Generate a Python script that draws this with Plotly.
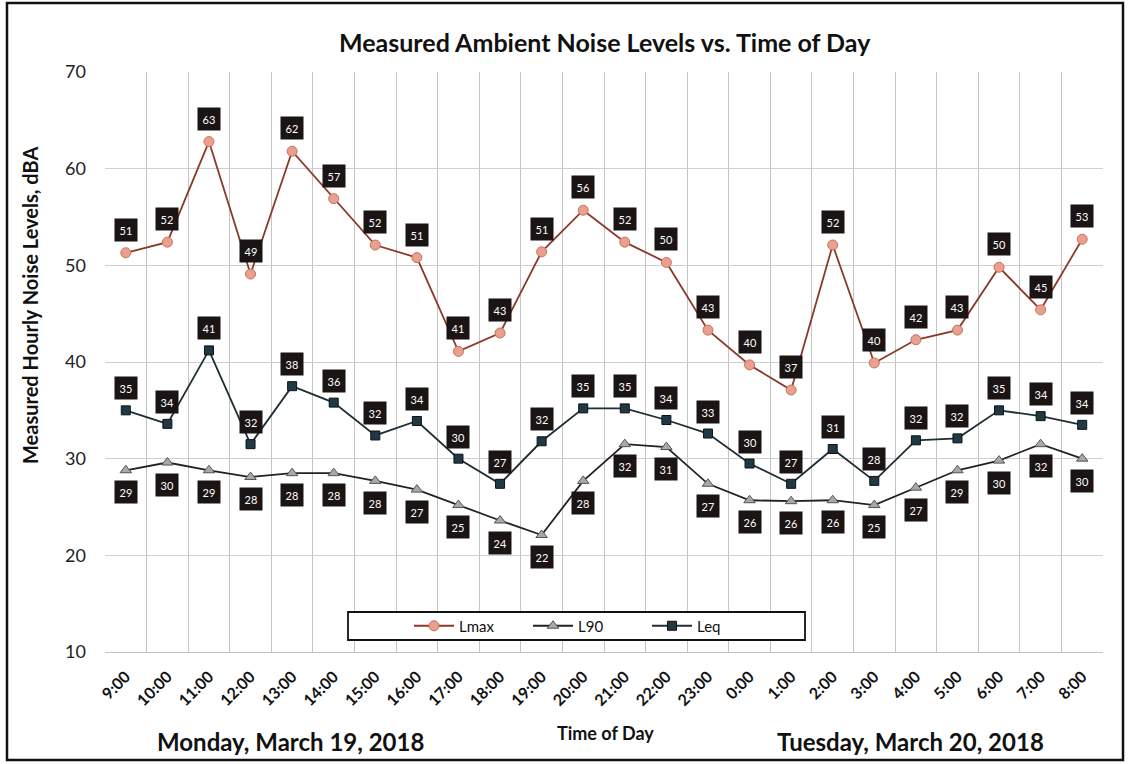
import plotly.graph_objects as go

hours = ["9:00", "10:00", "11:00", "12:00", "13:00", "14:00", "15:00", "16:00",
         "17:00", "18:00", "19:00", "20:00", "21:00", "22:00", "23:00", "0:00",
         "1:00", "2:00", "3:00", "4:00", "5:00", "6:00", "7:00", "8:00"]

lmax = [51.3, 52.4, 62.8, 49.1, 61.8, 56.9, 52.1, 50.8,
        41.1, 43.0, 51.4, 55.7, 52.4, 50.3, 43.3, 39.7,
        37.1, 52.1, 39.9, 42.3, 43.3, 49.8, 45.4, 52.7]

l90 = [28.8, 29.6, 28.8, 28.1, 28.5, 28.5, 27.7, 26.8,
       25.2, 23.6, 22.1, 27.7, 31.5, 31.2, 27.4, 25.7,
       25.6, 25.7, 25.2, 27.0, 28.8, 29.8, 31.5, 30.0]

leq = [35.0, 33.6, 41.2, 31.5, 37.5, 35.8, 32.4, 33.9,
       30.0, 27.4, 31.8, 35.2, 35.2, 34.0, 32.6, 29.5,
       27.4, 31.0, 27.7, 31.9, 32.1, 35.0, 34.4, 33.5]

FONT = "Lato"
W, H = 1128, 764
L, R, T, B = 105, 25, 72, 112
PW, PH = W - L - R, H - T - B


def px(x):
    return (x - L) / PW


def py(y):
    return (H - B - y) / PH


fig = go.Figure()
fig.add_trace(go.Scatter(x=hours, y=lmax, name="Lmax", mode="lines+markers",
                         line=dict(color="#8b3a2a", width=1.8),
                         marker=dict(symbol="circle", size=10, color="#e9a08e",
                                     line=dict(color="#c9705c", width=1))))
fig.add_trace(go.Scatter(x=hours, y=l90, name="L90", mode="lines+markers",
                         line=dict(color="#222222", width=1.8),
                         marker=dict(symbol="triangle-up", size=10, color="#a8a8a8",
                                     line=dict(color="#555555", width=1))))
fig.add_trace(go.Scatter(x=hours, y=leq, name="Leq", mode="lines+markers",
                         line=dict(color="#1e2e34", width=1.8),
                         marker=dict(symbol="square", size=9, color="#1f3a44",
                                     line=dict(color="#111111", width=1))))

annotations = []
for series, shift in ((lmax, 23), (leq, 22), (l90, -22)):
    for h, v in zip(hours, series):
        annotations.append(dict(x=h, y=v, xref="x", yref="y", text=f"{round(v):d}",
                                showarrow=False, yshift=shift,
                                font=dict(family=FONT, size=11, color="white"),
                                bgcolor="#1a1414", borderpad=4.5))

annotations += [
    dict(text="<b>Measured Ambient Noise Levels vs. Time of Day</b>", x=px(605), y=py(42),
         xref="paper", yref="paper", showarrow=False, xanchor="center", yanchor="middle",
         font=dict(family=FONT, size=25, color="#111111")),
    dict(text="<b>Measured Hourly Noise Levels, dBA</b>", x=px(30), y=py(306),
         xref="paper", yref="paper", showarrow=False, xanchor="center", yanchor="middle",
         textangle=-90, font=dict(family=FONT, size=20, color="#111111")),
    dict(text="<b>Time of Day</b>", x=px(605), y=py(733),
         xref="paper", yref="paper", showarrow=False, xanchor="center", yanchor="middle",
         font=dict(family=FONT, size=18, color="#111111")),
    dict(text="<b>Monday, March 19, 2018</b>", x=px(290), y=py(741),
         xref="paper", yref="paper", showarrow=False, xanchor="center", yanchor="middle",
         font=dict(family=FONT, size=24, color="#111111")),
    dict(text="<b>Tuesday, March 20, 2018</b>", x=px(910), y=py(741),
         xref="paper", yref="paper", showarrow=False, xanchor="center", yanchor="middle",
         font=dict(family=FONT, size=24, color="#111111")),
]

shapes = [
    # outer chart border
    dict(type="rect", xref="paper", yref="paper",
         x0=px(7), x1=px(1123), y0=py(760), y1=py(3),
         line=dict(color="#111111", width=2.5)),
    # legend box
    dict(type="rect", xref="paper", yref="paper",
         x0=px(348), x1=px(805), y0=py(640), y1=py(612),
         fillcolor="white", line=dict(color="#111111", width=1.8), layer="above"),
]

fig.update_layout(
    width=W, height=H,
    margin=dict(l=L, r=R, t=T, b=B),
    paper_bgcolor="white", plot_bgcolor="white",
    font=dict(family=FONT, color="#111111"),
    showlegend=True,
    legend=dict(orientation="h", x=px(409), xanchor="left", y=py(626), yanchor="middle",
                bgcolor="rgba(0,0,0,0)", borderwidth=0,
                font=dict(family=FONT, size=15, color="#111111"),
                entrywidth=64, itemwidth=40),
    annotations=annotations,
    shapes=shapes,
)

fig.update_xaxes(
    type="category", range=[-0.5, 23.5], tickson="boundaries",
    showgrid=True, gridcolor="#c4c4c4", gridwidth=1,
    showline=True, linecolor="#c4c4c4", ticks="",
    tickangle=-45, ticklabelstandoff=8,
    tickfont=dict(family=FONT, size=16, color="#111111", weight="bold"),
)
fig.update_yaxes(
    range=[10, 70], dtick=10, showgrid=True, gridcolor="#cfcfcf", gridwidth=1,
    zeroline=False, showline=False, ticks="", ticklabelstandoff=18,
    tickfont=dict(family=FONT, size=18, color="#222222"),
)

fig.write_html("out.html", config={"displayModeBar": False},
               post_script="document.body.style.margin='0';")
